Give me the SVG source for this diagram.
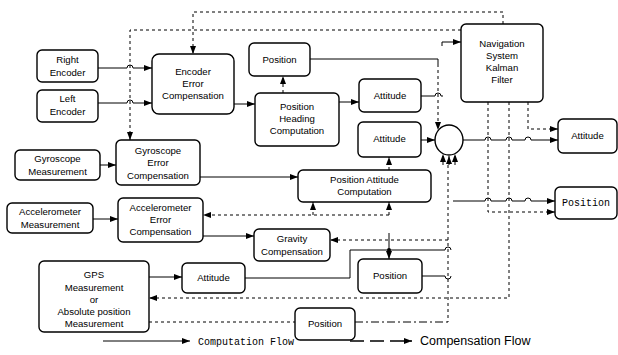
<svg xmlns="http://www.w3.org/2000/svg" width="618" height="355" viewBox="0 0 618 355">
<style>
.b{fill:#fff;stroke:#000;stroke-width:1.4}
.t{font-family:"Liberation Sans",Arial,sans-serif;font-size:9.6px;text-anchor:middle;fill:#000}
.m{font-family:"Liberation Mono","Courier New",monospace;font-size:10px;fill:#000}
.s{fill:none;stroke:#000;stroke-width:1}
.d{fill:none;stroke:#000;stroke-width:1;stroke-dasharray:3 3}
.dd{fill:none;stroke:#000;stroke-width:1;stroke-dasharray:8 3 2 3}
.ar{marker-end:url(#a)}
</style>
<defs>
<marker id="a" viewBox="0 0 8 6" refX="8" refY="3" markerWidth="8" markerHeight="6" markerUnits="userSpaceOnUse" orient="auto"><path d="M0,0 L8,3 L0,6z"/></marker>
</defs>
<rect width="618" height="355" fill="#fff"/>
<g id="connectors">
<path class="s ar" d="M98,68 H127 a3,3 0 0 1 6,0 H152"/>
<path class="s ar" d="M98,103 H127 a3,3 0 0 1 6,0 H152"/>
<path class="s ar" d="M234,104 H255"/>
<path class="s ar" d="M339,102 H359"/>
<path class="s" d="M310,59 H438 V64"/>
<path class="s" d="M421,96 H435 a3,3 0 0 1 6,0 H443"/>
<path class="s ar" d="M421,140 H435"/>
<path class="s ar" d="M463,140 H485 a3,3 0 0 1 6,0 H506 a3,3 0 0 1 6,0 H525 a3,3 0 0 1 6,0 H558"/>
<path class="s ar" d="M100,165 H116"/>
<path class="s ar" d="M200,177 H298"/>
<path class="s ar" d="M453,201 H485 a3,3 0 0 1 6,0 H506 a3,3 0 0 1 6,0 H525 a3,3 0 0 1 6,0 H555"/>
<path class="s ar" d="M93,219 H118"/>
<path class="s ar" d="M203,236 H254"/>
<path class="s" d="M245,278 H350 V250 H445 a3,3 0 0 1 6,0"/>
<path class="s ar" d="M389,233 V259"/>
<circle cx="389" cy="250" r="2"/>
<path class="s ar" d="M149,277 H182"/>
<path class="s" d="M422,276 H445 a3,3 0 0 0 6,0"/>
<path class="s ar" d="M442,46 V42 H461"/>
<path class="d ar" d="M503,24 V12 H193 V54"/>
<path class="d ar" d="M461,30 H130 V140"/>
<path class="d ar" d="M283,93 V76"/>
<path class="d ar" d="M389,170 V157"/>
<path class="d ar" d="M438,64 V130"/>
<path class="d ar" d="M443,165 V154"/>
<path class="d ar" d="M449,165 V156"/>
<path class="d ar" d="M455,165 V154"/>
<path class="d" d="M448,165 V322"/>
<path class="d ar" d="M528,102 V129 H558"/>
<path class="d ar" d="M488,102 V212 H555"/>
<path class="d ar" d="M509,102 V298 H149"/>
<path class="d ar" d="M389,215 H203"/>
<path class="d ar" d="M313,215 V202"/>
<path class="d ar" d="M389,215 V202"/>
<path class="d ar" d="M448,240 H330"/>
<path class="d" d="M149,322 H295"/>
<path class="dd" d="M355,322 H448"/>
</g>
<g id="n-right-encoder"><rect class="b" x="37" y="50" width="61" height="32" rx="5"/><text class="t" x="67.5" y="63">Right</text><text class="t" x="67.5" y="76">Encoder</text></g>
<g id="n-left-encoder"><rect class="b" x="37" y="90" width="61" height="32" rx="5"/><text class="t" x="67.5" y="102">Left</text><text class="t" x="67.5" y="115">Encoder</text></g>
<g id="n-encoder-error"><rect class="b" x="152" y="54" width="82" height="60" rx="7"/><text class="t" x="193" y="75">Encoder</text><text class="t" x="193" y="87">Error</text><text class="t" x="193" y="99">Compensation</text></g>
<g id="n-position-top"><rect class="b" x="249" y="43" width="61" height="33" rx="5"/><text class="t" x="279.5" y="63">Position</text></g>
<g id="n-position-heading"><rect class="b" x="255" y="93" width="84" height="53" rx="5"/><text class="t" x="297" y="110">Position</text><text class="t" x="297" y="122">Heading</text><text class="t" x="297" y="134">Computation</text></g>
<g id="n-attitude-1"><rect class="b" x="359" y="79" width="62" height="33" rx="5"/><text class="t" x="390" y="99">Attitude</text></g>
<g id="n-kalman"><rect class="b" x="461" y="24" width="82" height="78" rx="5"/><text class="t" x="502" y="47">Navigation</text><text class="t" x="502" y="59">System</text><text class="t" x="502" y="71">Kalman</text><text class="t" x="502" y="83">Filter</text></g>
<g id="n-attitude-2"><rect class="b" x="358" y="122" width="63" height="35" rx="5"/><text class="t" x="389.5" y="142">Attitude</text></g>
<g id="n-sum"><ellipse class="b" cx="449" cy="140" rx="14" ry="15"/></g>
<g id="n-attitude-out"><rect class="b" x="558" y="119" width="59" height="34" rx="5"/><text class="t" x="587.5" y="139">Attitude</text></g>
<g id="n-gyro-meas"><rect class="b" x="15" y="150" width="85" height="30" rx="5"/><text class="t" x="57.5" y="162">Gyroscope</text><text class="t" x="57.5" y="175">Measurement</text></g>
<g id="n-gyro-error"><rect class="b" x="116" y="140" width="84" height="45" rx="5"/><text class="t" x="158" y="154">Gyroscope</text><text class="t" x="158" y="166">Error</text><text class="t" x="158" y="179">Compensation</text></g>
<g id="n-pos-att"><rect class="b" x="298" y="170" width="133" height="32" rx="5"/><text class="t" x="364.5" y="183">Position  Attitude</text><text class="t" x="364.5" y="195">Computation</text></g>
<g id="n-acc-meas"><rect class="b" x="7" y="203" width="86" height="30" rx="5"/><text class="t" x="50" y="215">Accelerometer</text><text class="t" x="50" y="228">Measurement</text></g>
<g id="n-acc-error"><rect class="b" x="118" y="198" width="85" height="44" rx="5"/><text class="t" x="160.5" y="211">Accelerometer</text><text class="t" x="160.5" y="223">Error</text><text class="t" x="160.5" y="235">Compensation</text></g>
<g id="n-gravity"><rect class="b" x="254" y="229" width="76" height="32" rx="5"/><text class="t" x="292" y="242">Gravity</text><text class="t" x="292" y="255">Compensation</text></g>
<g id="n-gps"><rect class="b" x="39" y="261" width="110" height="71" rx="5"/><text class="t" x="94" y="278">GPS</text><text class="t" x="94" y="291">Measurement</text><text class="t" x="94" y="303">or</text><text class="t" x="94" y="315">Absolute position</text><text class="t" x="94" y="327">Measurement</text></g>
<g id="n-attitude-gps"><rect class="b" x="182" y="263" width="63" height="30" rx="5"/><text class="t" x="213.5" y="281">Attitude</text></g>
<g id="n-position-low"><rect class="b" x="358" y="259" width="64" height="34" rx="5"/><text class="t" x="390" y="279">Position</text></g>
<g id="n-position-bottom"><rect class="b" x="295" y="308" width="60" height="32" rx="5"/><text class="t" x="325" y="327">Position</text></g>
<g id="n-position-out"><rect class="b" x="555" y="187" width="62" height="32" rx="5"/><text class="m" x="586" y="206" text-anchor="middle">Position</text></g>
<g id="legend">
<path class="s ar" d="M103,341 H190" stroke-width="1.3"/>
<text class="m" x="198" y="345">Computation Flow</text>
<path class="ar" d="M350,341 H412" fill="none" stroke="#000" stroke-width="1.3" stroke-dasharray="14 6"/>
<text x="420" y="345" font-family="Liberation Sans, Arial, sans-serif" font-size="12.5">Compensation Flow</text>
</g>
</svg>
